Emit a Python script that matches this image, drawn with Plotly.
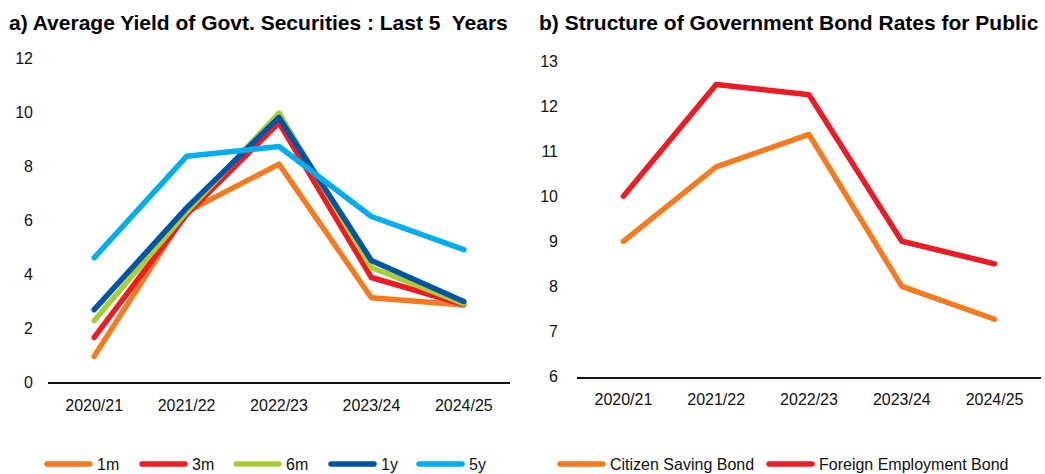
import plotly.graph_objects as go

# Fiscal years shared by both panels
years = ["2020/21", "2021/22", "2022/23", "2023/24", "2024/25"]

# Panel a) average yield of government securities (%)
yield_1m = [0.95, 6.3, 8.07, 3.12, 2.85]
yield_3m = [1.65, 6.2, 9.6, 3.87, 2.87]
yield_6m = [2.27, 6.3, 9.96, 4.24, 2.9]
yield_1y = [2.68, 6.45, 9.8, 4.5, 2.98]
yield_5y = [4.6, 8.36, 8.72, 6.13, 4.9]
left_names = ["1m", "3m", "6m", "1y", "5y"]
left_colors = ["#F47B20", "#ED1C24", "#A6CE39", "#0054A6", "#00AEEF"]

# Panel b) bond rates for the public (%)
citizen_saving = [9.0, 10.65, 11.37, 8.0, 7.27]
foreign_employment = [10.0, 12.48, 12.25, 9.0, 8.5]
right_names = ["Citizen Saving Bond", "Foreign Employment Bond"]
right_colors = ["#F47B20", "#ED1C24"]

left_ticks = [0, 2, 4, 6, 8, 10, 12]
right_ticks = [6, 7, 8, 9, 10, 11, 12, 13]

W, H = 1045, 474
FONT = "Liberation Sans, Arial, Helvetica, sans-serif"

fig = go.Figure()

for vals, name, col in zip([yield_1m, yield_3m, yield_6m, yield_1y, yield_5y],
                           left_names, left_colors):
    fig.add_trace(go.Scatter(x=years, y=vals, name=name, mode="lines",
                             line=dict(color=col, width=5.5),
                             xaxis="x", yaxis="y", showlegend=False))

for vals, name, col in zip([citizen_saving, foreign_employment],
                           right_names, right_colors):
    fig.add_trace(go.Scatter(x=years, y=vals, name=name, mode="lines",
                             line=dict(color=col, width=5.5),
                             xaxis="x2", yaxis="y2", showlegend=False))


def px(v):
    return v / W


def py(v):
    return 1 - v / H


axis_common = dict(showgrid=False, zeroline=False, ticks="", automargin=False,
                   tickfont=dict(family=FONT, size=16, color="#111111"))

fig.update_layout(
    width=W, height=H, autosize=False,
    margin=dict(l=0, r=0, t=0, b=0, pad=0),
    paper_bgcolor="white", plot_bgcolor="white",
    showlegend=False,
    font=dict(family=FONT, size=16, color="#111111"),
    xaxis=dict(domain=[px(48), px(510)], anchor="y", range=[-0.5, 4.5],
               showline=True, linecolor="#111111", linewidth=1.8,
               ticklabelstandoff=8, **axis_common),
    yaxis=dict(domain=[py(382), py(58)], anchor="x", range=[0, 12],
               tickvals=left_ticks, showline=False,
               ticklabelstandoff=14, **axis_common),
    xaxis2=dict(domain=[px(577), px(1041)], anchor="y2", range=[-0.5, 4.5],
                showline=True, linecolor="#111111", linewidth=1.8,
                ticklabelstandoff=7, **axis_common),
    yaxis2=dict(domain=[py(376.5), py(61)], anchor="x2", range=[6, 13],
                tickvals=right_ticks, showline=False,
                ticklabelstandoff=18, **axis_common),
)

# Panel titles
fig.add_annotation(text="<b>a) Average Yield of Govt. Securities : Last 5\u00a0 Years</b>",
                   xref="paper", yref="paper", x=px(7), y=py(23),
                   xanchor="left", yanchor="middle", showarrow=False,
                   font=dict(family=FONT, size=21, color="#000000"))
fig.add_annotation(text="<b>b) Structure of Government Bond Rates for Public</b>",
                   xref="paper", yref="paper", x=px(537), y=py(23),
                   xanchor="left", yanchor="middle", showarrow=False,
                   font=dict(family=FONT, size=21, color="#000000"))


# Legends: a thick line sample followed by the series name
def legend_row(names, colors, starts, y):
    for name, col, x0 in zip(names, colors, starts):
        fig.add_shape(type="line", xref="paper", yref="paper",
                      x0=px(x0 + 2), x1=px(x0 + 45), y0=py(y), y1=py(y),
                      line=dict(color=col, width=5.5))
        fig.add_annotation(text=name, xref="paper", yref="paper",
                           x=px(x0 + 50), y=py(y), xanchor="left",
                           yanchor="middle", showarrow=False,
                           font=dict(family=FONT, size=16, color="#111111"))


legend_row(left_names, left_colors, [45, 140, 234, 329, 417], 464)
legend_row(right_names, right_colors, [558, 767], 464)

# Round the ends and joints of the thick data lines and legend samples
round_caps = """
document.querySelectorAll('.scatterlayer path.js-line, .shapelayer path').forEach(function (p) {
  p.style.strokeLinecap = 'round';
  p.style.strokeLinejoin = 'round';
});
"""

fig.write_html("out.html", post_script=round_caps)
